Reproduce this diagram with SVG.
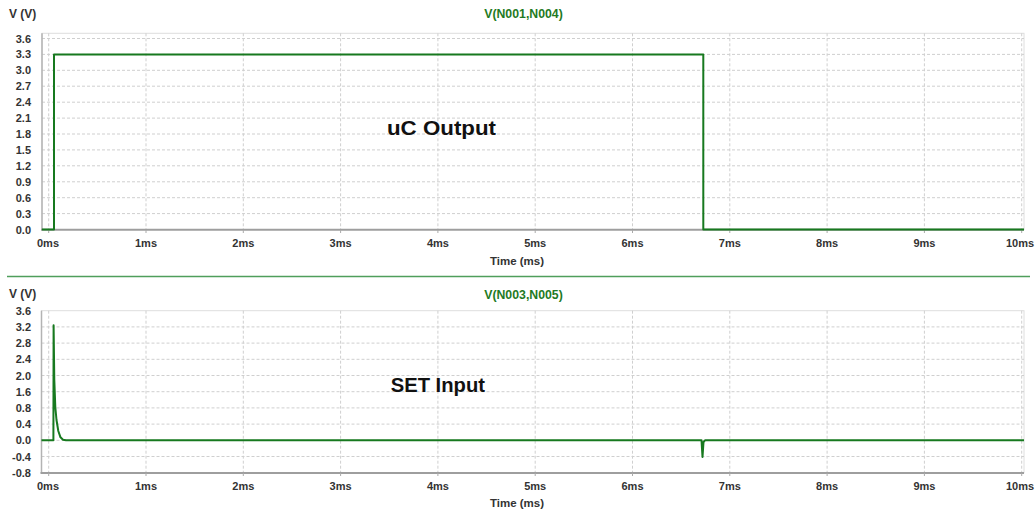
<svg xmlns="http://www.w3.org/2000/svg" width="1035" height="512" viewBox="0 0 1035 512">
<style>
text{font-family:"Liberation Sans",Arial,sans-serif;font-weight:bold;fill:#333}
.yt{font-size:11px;text-anchor:end}
.xt{font-size:11px;text-anchor:middle}
.ax{font-size:12px}
.ttl{font-size:12.3px;fill:#1f7a24;text-anchor:middle}
.big{font-size:19.5px;fill:#111}
.grid{stroke:#cfcfcf;stroke-width:1;stroke-dasharray:3 2;fill:none}
.frame{stroke:#dedede;stroke-width:1;fill:none}
.lax{stroke:#b3b3b3;stroke-width:1.5}
.bax{stroke:#9e9e9e;stroke-width:2}
.tick{stroke:#aaa;stroke-width:1}
.sig{stroke:#17791f;stroke-width:2;fill:none;stroke-linejoin:round}
</style>
<rect width="1035" height="512" fill="#ffffff"/>

<g id="chart-top">
  <text class="ax" x="9" y="18.3">V (V)</text>
  <text class="ttl" x="523.5" y="18">V(N001,N004)</text>
  <rect class="frame" x="42" y="33.3" width="982" height="196.2"/>
  <g class="grid">
    <path d="M42,38.5H1024M42,54.4H1024M42,70.3H1024M42,86.2H1024M42,102.2H1024M42,118.1H1024M42,134H1024M42,149.9H1024M42,165.8H1024M42,181.8H1024M42,197.7H1024M42,213.6H1024"/>
    <path d="M48.7,33.3V229.5M146,33.3V229.5M243.3,33.3V229.5M340.6,33.3V229.5M437.9,33.3V229.5M535.2,33.3V229.5M632.5,33.3V229.5M729.8,33.3V229.5M827.1,33.3V229.5M924.4,33.3V229.5M1021.7,33.3V229.5"/>
  </g>
  <line class="lax" x1="42" y1="33.3" x2="42" y2="230"/>
  <line class="bax" x1="41" y1="229.8" x2="1024" y2="229.8"/>
  <path class="tick" d="M48.7,230V233M146,230V233M243.3,230V233M340.6,230V233M437.9,230V233M535.2,230V233M632.5,230V233M729.8,230V233M827.1,230V233M924.4,230V233M1021.7,230V233"/>
  <g class="yt-labels">
    <text class="yt" x="31" y="42.5">3.6</text>
    <text class="yt" x="31" y="58.4">3.3</text>
    <text class="yt" x="31" y="74.3">3.0</text>
    <text class="yt" x="31" y="90.2">2.7</text>
    <text class="yt" x="31" y="106.2">2.4</text>
    <text class="yt" x="31" y="122.1">2.1</text>
    <text class="yt" x="31" y="138">1.8</text>
    <text class="yt" x="31" y="153.9">1.5</text>
    <text class="yt" x="31" y="169.8">1.2</text>
    <text class="yt" x="31" y="185.8">0.9</text>
    <text class="yt" x="31" y="201.7">0.6</text>
    <text class="yt" x="31" y="217.6">0.3</text>
    <text class="yt" x="31" y="233.5">0.0</text>
  </g>
  <g class="xt-labels">
    <text class="xt" x="48" y="247">0ms</text>
    <text class="xt" x="146" y="247">1ms</text>
    <text class="xt" x="243.3" y="247">2ms</text>
    <text class="xt" x="340.6" y="247">3ms</text>
    <text class="xt" x="437.9" y="247">4ms</text>
    <text class="xt" x="535.2" y="247">5ms</text>
    <text class="xt" x="632.5" y="247">6ms</text>
    <text class="xt" x="729.8" y="247">7ms</text>
    <text class="xt" x="827.1" y="247">8ms</text>
    <text class="xt" x="924.4" y="247">9ms</text>
    <text class="xt" x="1020" y="247">10ms</text>
  </g>
  <text class="xt" x="517" y="265" style="font-size:11.5px">Time (ms)</text>
  <path class="sig" d="M42,229.5H54V54.4H703.3V229.5H1024"/>
  <text class="big" x="387" y="135" textLength="109" lengthAdjust="spacingAndGlyphs">uC Output</text>
</g>

<g id="separator">
  <line x1="7" y1="276.5" x2="1030" y2="276.5" stroke="#4f9e5c" stroke-width="1.5"/>
</g>

<g id="chart-bottom">
  <text class="ax" x="9" y="297.5">V (V)</text>
  <text class="ttl" x="523.5" y="298.5">V(N003,N005)</text>
  <rect class="frame" x="41.5" y="310.7" width="982.5" height="162"/>
  <g class="grid">
    <path d="M41.5,326.9H1024M41.5,343.1H1024M41.5,359.3H1024M41.5,375.5H1024M41.5,391.7H1024M41.5,407.9H1024M41.5,424.1H1024M41.5,440.3H1024M41.5,456.5H1024"/>
    <path d="M48.7,310.7V472.7M146,310.7V472.7M243.3,310.7V472.7M340.6,310.7V472.7M437.9,310.7V472.7M535.2,310.7V472.7M632.5,310.7V472.7M729.8,310.7V472.7M827.1,310.7V472.7M924.4,310.7V472.7M1021.7,310.7V472.7"/>
  </g>
  <line class="lax" x1="41.5" y1="310.7" x2="41.5" y2="473"/>
  <line class="bax" x1="40.5" y1="473" x2="1024" y2="473"/>
  <path class="tick" d="M48.7,473V476M146,473V476M243.3,473V476M340.6,473V476M437.9,473V476M535.2,473V476M632.5,473V476M729.8,473V476M827.1,473V476M924.4,473V476M1021.7,473V476"/>
  <g class="yt-labels">
    <text class="yt" x="31" y="314.7">3.6</text>
    <text class="yt" x="31" y="330.9">3.2</text>
    <text class="yt" x="31" y="347.1">2.8</text>
    <text class="yt" x="31" y="363.3">2.4</text>
    <text class="yt" x="31" y="379.5">2.0</text>
    <text class="yt" x="31" y="395.7">1.6</text>
    <text class="yt" x="31" y="411.9">0.8</text>
    <text class="yt" x="31" y="428.1">0.4</text>
    <text class="yt" x="31" y="444.3">0.0</text>
    <text class="yt" x="31" y="460.5">-0.4</text>
    <text class="yt" x="31" y="476.7">-0.8</text>
  </g>
  <g class="xt-labels">
    <text class="xt" x="48" y="490">0ms</text>
    <text class="xt" x="146" y="490">1ms</text>
    <text class="xt" x="243.3" y="490">2ms</text>
    <text class="xt" x="340.6" y="490">3ms</text>
    <text class="xt" x="437.9" y="490">4ms</text>
    <text class="xt" x="535.2" y="490">5ms</text>
    <text class="xt" x="632.5" y="490">6ms</text>
    <text class="xt" x="729.8" y="490">7ms</text>
    <text class="xt" x="827.1" y="490">8ms</text>
    <text class="xt" x="924.4" y="490">9ms</text>
    <text class="xt" x="1020" y="490">10ms</text>
  </g>
  <text class="xt" x="517" y="507" style="font-size:11.5px">Time (ms)</text>
  <path class="sig" d="M41.5,440.3H53.4L53.6,325.3L54.3,380L55.3,407L56.5,420L58.3,431L60.5,437.3L63,439.8L66,440.3H701.5L702.5,457L703.5,442L705,440.3H1024"/>
  <text class="big" x="390.7" y="391.7" textLength="94.3" lengthAdjust="spacingAndGlyphs">SET Input</text>
</g>
</svg>
